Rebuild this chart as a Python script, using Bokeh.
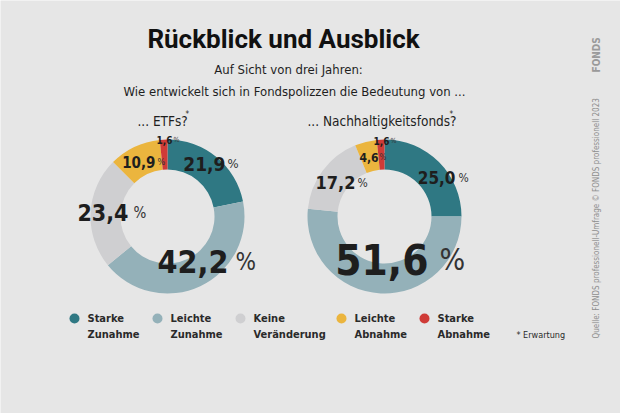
import math
from bokeh.plotting import figure
from bokeh.models import Range1d, ColumnDataSource
from bokeh.core.properties import value
from bokeh.embed import file_html
from bokeh.resources import INLINE

# ---------------- data ----------------
categories = ["Starke Zunahme", "Leichte Zunahme", "Keine Veränderung", "Leichte Abnahme", "Starke Abnahme"]
legend_lines = [["Starke", "Zunahme"], ["Leichte", "Zunahme"], ["Keine", "Veränderung"], ["Leichte", "Abnahme"], ["Starke", "Abnahme"]]
etf_values = [21.9, 42.2, 23.4, 10.9, 1.6]
nachhaltig_values = [25.0, 51.6, 17.2, 4.6, 1.6]
chart_titles = ["... ETFs?", "... Nachhaltigkeitsfonds?"]
title = "Rückblick und Ausblick"
subtitle = ["Auf Sicht von drei Jahren:", "Wie entwickelt sich in Fondspolizzen die Bedeutung von ..."]
source_text = "Quelle: FONDS professionell-Umfrage © FONDS professionell 2023"

# ---------------- styles ----------------
colors = ["#2f7883", "#94b1b9", "#cfcfd1", "#ebb53e", "#cf3b37"]
BG = "#e6e6e6"
DARK = "#1e1e1e"
COND = value("DejaVu Sans Condensed")
HEAVY = value("Roboto")

W, H = 620, 413
def Y(y):
    return H - y

p = figure(width=W, height=H, x_range=Range1d(0, W), y_range=Range1d(0, H),
           output_backend="svg", toolbar_location=None, min_border=0)
p.axis.visible = False
p.grid.visible = False
p.outline_line_color = None
p.background_fill_color = BG
p.border_fill_color = BG

# ---------------- donuts ----------------
centers = [(167, 216), (384, 216)]
outer_r, inner_r = 77, 47

# label layouts: (number right x, centre y, number size, pct size, pct dx)
label_layouts = [
    [(225, 163, 19, 13, 2), (228, 261, 32, 24, 7), (128, 212, 23, 15, 5),
     (155, 161, 15, 9, 2), (172, 139, 10, 7, 1)],
    [(455, 177, 17, 12, 3), (428, 259, 42, 30, 11), (355, 182, 18, 12, 2),
     (378, 157, 12, 8, 1), (389, 140, 10, 7, 1)],
]

def fmt(v):
    return f"{v:.1f}".replace(".", ",")

for (cx, cy), vals, layout in zip(centers, [etf_values, nachhaltig_values], label_layouts):
    total = sum(vals)
    starts, ends = [], []
    acc = 0.0
    for v in vals:
        starts.append(math.pi / 2 - 2 * math.pi * acc / total)
        acc += v
        ends.append(math.pi / 2 - 2 * math.pi * acc / total)
    src = ColumnDataSource(dict(x=[cx] * len(vals), y=[Y(cy)] * len(vals),
                                s=starts, e=ends, c=colors))
    p.annular_wedge(x="x", y="y", inner_radius=inner_r, outer_radius=outer_r,
                    start_angle="s", end_angle="e", direction="clock",
                    fill_color="c", line_color=None, source=src)
    for v, (rx, my, ns, ps, pdx) in zip(vals, layout):
        p.text(x=[rx], y=[Y(my)], text=[fmt(v)], text_align="right", text_baseline="middle",
               text_font=COND, text_font_style="bold", text_font_size=f"{ns}px", text_color=DARK)
        p.text(x=[rx + pdx], y=[Y(my)], text=["%"], text_align="left", text_baseline="middle",
               text_font=COND, text_font_size=f"{ps}px", text_color="#333333")

# chart titles
title_pos = [(137, 120), (307, 120)]
for t, (tx, ty) in zip(chart_titles, title_pos):
    p.text(x=[tx], y=[Y(ty)], text=[t], text_align="left", text_baseline="middle",
           text_font=COND, text_font_size="13.5px", text_color=DARK)
p.text(x=[185, 449], y=[Y(114), Y(114)], text=["*", "*"], text_align="left", text_baseline="middle",
       text_font=COND, text_font_size="8px", text_color=DARK)

# ---------------- header ----------------
p.text(x=[283], y=[Y(38)], text=[title], text_align="center", text_baseline="middle",
       text_font=HEAVY, text_font_style="bold", text_font_size="26px", text_color="#111111")
p.text(x=[288, 294], y=[Y(69), Y(91)], text=subtitle, text_align="center", text_baseline="middle",
       text_font=COND, text_font_size="13px", text_color=DARK)

# ---------------- legend ----------------
leg_x = [74, 157, 240, 341, 424]
p.scatter(x=leg_x, y=[Y(318)] * 5, size=10, marker="circle", fill_color=colors, line_color=None)
for lx, lines in zip(leg_x, legend_lines):
    p.text(x=[lx + 13, lx + 13], y=[Y(318), Y(334)], text=lines, text_align="left",
           text_baseline="middle", text_font=COND, text_font_style="bold",
           text_font_size="11px", text_color="#2a2a2a")
p.text(x=[516], y=[Y(334)], text=["* Erwartung"], text_align="left", text_baseline="middle",
       text_font=COND, text_font_size="9px", text_color="#2a2a2a")

# ---------------- side source ----------------
p.text(x=[596], y=[Y(338)], text=[source_text], angle=math.pi / 2, text_align="left",
       text_baseline="middle", text_font=COND, text_font_size="8px", text_color="#8e8e8e")
p.text(x=[596], y=[Y(72)], text=["FONDS"], angle=math.pi / 2, text_align="left",
       text_baseline="middle", text_font=COND, text_font_style="bold",
       text_font_size="10px", text_color="#9a9a9a")

open("out.html", "w").write(file_html(p, INLINE))
